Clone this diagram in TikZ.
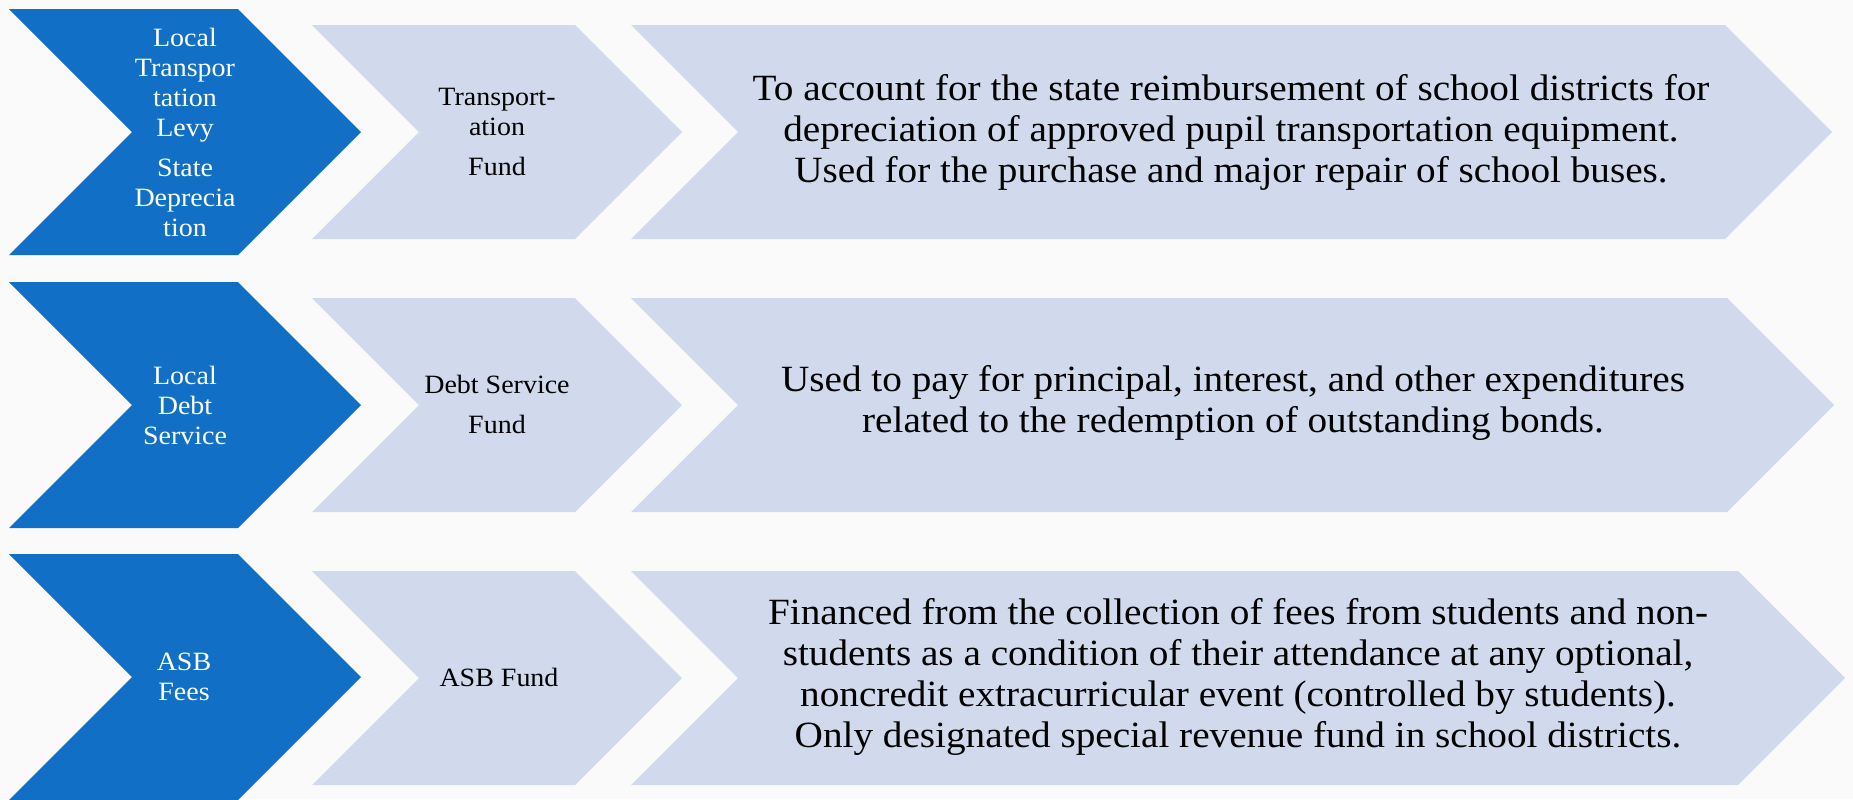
\documentclass[tikz,border=0pt]{standalone}
\usepackage{fontspec}
\setmainfont{Liberation Serif}[FakeStretch=1.06]
\definecolor{chevblue}{RGB}{17,112,198}
\definecolor{chevlight}{RGB}{208,218,236}
\definecolor{bgpaper}{RGB}{250,250,250}
\begin{document}
\begin{tikzpicture}[x=0.5pt,y=-0.5pt,
  bluechev/.style={fill=chevblue},
  lightchev/.style={fill=chevlight},
  bluetext/.style={text=white,font=\fontsize{13.2}{15}\selectfont,align=center,inner sep=0pt},
  smalltext/.style={text=black,font=\fontsize{13.2}{15}\selectfont,align=center,inner sep=0pt},
  bigtext/.style={text=black,font=\fontsize{18.5}{20.5}\selectfont,align=center,inner sep=0pt}]
\useasboundingbox (0,0) rectangle (1853,799);
\fill[bgpaper] (0,0) rectangle (1853,799);
% Row 1
\fill[bluechev] (9,9) -- (238,9) -- (361,132) -- (238,255) -- (9,255) -- (132,132) -- cycle;
\fill[lightchev] (312,25) -- (575,25) -- (682,132) -- (575,239) -- (312,239) -- (419,132) -- cycle;
\fill[lightchev] (631,25) -- (1725,25) -- (1832,132) -- (1725,239) -- (631,239) -- (738,132) -- cycle;
% Row 2
\fill[bluechev] (9,282) -- (238,282) -- (361,405) -- (238,528) -- (9,528) -- (132,405) -- cycle;
\fill[lightchev] (312,298) -- (575,298) -- (682,405) -- (575,512) -- (312,512) -- (419,405) -- cycle;
\fill[lightchev] (631,298) -- (1727,298) -- (1834,405) -- (1727,512) -- (631,512) -- (738,405) -- cycle;
% Row 3
\fill[bluechev] (9,554) -- (238,554) -- (361,677) -- (238,800) -- (9,800) -- (132,677) -- cycle;
\fill[lightchev] (312,571) -- (575,571) -- (682,678) -- (575,785) -- (312,785) -- (419,678) -- cycle;
\fill[lightchev] (631,571) -- (1738,571) -- (1845,678) -- (1738,785) -- (631,785) -- (738,678) -- cycle;
% Texts
\node[bluetext] (b1) at (185,132) {Local\\Transpor\\tation\\Levy\\[5pt]State\\Deprecia\\tion};
\node[smalltext] (f1) at (497,132) {Transport-\\ation\\[5pt]Fund};
\node[bigtext] (d1) at (1231,132) {To account for the state reimbursement of school districts for\\depreciation of approved pupil transportation equipment.\\Used for the purchase and major repair of school buses.};
\node[bluetext] (b2) at (185,405) {Local\\Debt\\Service};
\node[smalltext] (f2) at (497,404) {Debt Service\\[5pt]Fund};
\node[bigtext] (d2) at (1233,403) {Used to pay for principal, interest, and other expenditures\\related to the redemption of outstanding bonds.};
\node[bluetext] (b3) at (184,677) {ASB\\Fees};
\node[smalltext] (f3) at (499,677) {ASB Fund};
\node[bigtext] (d3) at (1238,677) {Financed from the collection of fees from students and non-\\students as a condition of their attendance at any optional,\\noncredit extracurricular event (controlled by students).\\Only designated special revenue fund in school districts.};
\end{tikzpicture}
\end{document}
